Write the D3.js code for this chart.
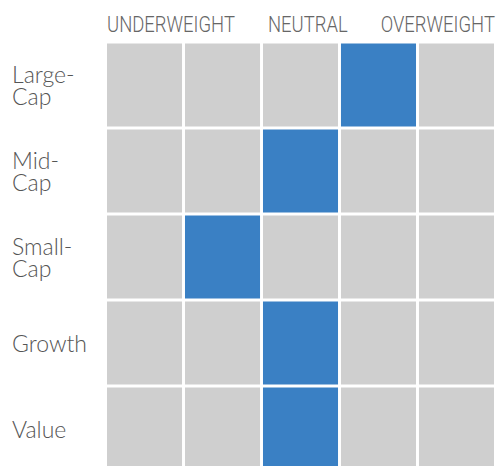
<!DOCTYPE html>
<html>
<head>
<meta charset="utf-8">
<script src="https://cdn.jsdelivr.net/npm/d3@7"></script>
<style>
  html, body { margin: 0; padding: 0; background: #fff; }
  svg { display: block; }
</style>
</head>
<body>
<script>
// ---- data ----
const columns = ["c0", "c1", "c2", "c3", "c4"];
const rowKeys = ["Large-Cap", "Mid-Cap", "Small-Cap", "Growth", "Value"];
const rowLabels = [["Large-", "Cap"], ["Mid-", "Cap"], ["Small-", "Cap"], ["Growth"], ["Value"]];
const positions = [3, 2, 1, 2, 2]; // selected column index per row
const headerLabels = ["UNDERWEIGHT", "NEUTRAL", "OVERWEIGHT"];

// ---- layout ----
const W = 497, H = 466;
const svg = d3.select("body").append("svg").attr("width", W).attr("height", H);

const x = d3.scaleBand().domain(columns).range([107, 494]).paddingInner(0.038).paddingOuter(0);
const y = d3.scaleBand().domain(rowKeys).range([43.5, 43.5 + 5 * 86 - 3]).paddingInner(3 / 86).paddingOuter(0);

const cells = [];
rowKeys.forEach((r, i) => columns.forEach((c, j) => cells.push({ r, c, on: positions[i] === j })));

svg.append("g").selectAll("rect").data(cells).join("rect")
  .attr("x", d => x(d.c))
  .attr("y", d => y(d.r))
  .attr("width", x.bandwidth())
  .attr("height", y.bandwidth())
  .attr("fill", d => d.on ? "#3a80c4" : "#cfcfcf");

// row labels
const lh = 21.7;
const rowG = svg.append("g");
rowKeys.forEach((r, i) => {
  const lines = rowLabels[i];
  const cy = y(r) + y.bandwidth() / 2;
  const first = cy - (lines.length - 1) * lh / 2 + 8.7;
  lines.forEach((l, k) => {
    rowG.append("text")
      .attr("x", 12)
      .attr("y", first + k * lh)
      .attr("fill", "#555")
      .style("font-family", "Lato, 'Open Sans', sans-serif")
      .style("font-weight", 300)
      .style("font-size", "23px")
      .text(l);
  });
});

// header labels: space-between across the grid width, condensed horizontally
const hx0 = 107, hx1 = 495;
const hg = svg.append("g");
const hTexts = headerLabels.map(l => hg.append("text")
  .attr("y", 32.3)
  .attr("fill", "#666")
  .style("font-family", "Roboto, 'Liberation Sans', sans-serif")
  .style("font-weight", 300)
  .style("font-size", "22.5px")
  .text(l));
const raw = hTexts.map(t => t.node().getComputedTextLength());
const sx = 128 / raw[0];
const widths = raw.map(w => w * sx);
const gap = ((hx1 - hx0) - d3.sum(widths)) / (headerLabels.length - 1);
let cx = hx0;
hTexts.forEach((t, i) => {
  t.attr("transform", `translate(${cx},0) scale(${sx},1)`).attr("x", 0);
  cx += widths[i] + gap;
});
</script>
</body>
</html>
